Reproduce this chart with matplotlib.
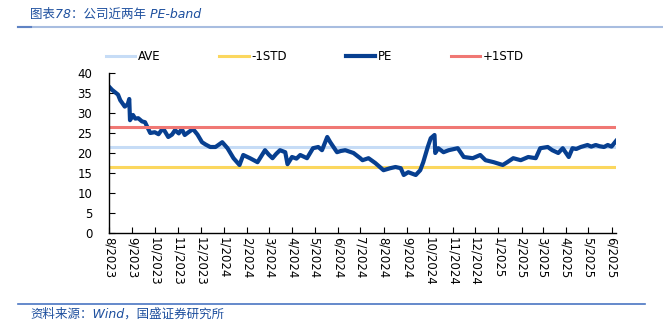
import numpy as np
import pandas as pd
import matplotlib
matplotlib.use("Agg")
import matplotlib.pyplot as plt
from matplotlib.transforms import Bbox, TransformedBbox

# PE series (approximate)
pe_dates = ["2023-08-01", "2023-08-05", "2023-08-09", "2023-08-13", "2023-08-16", "2023-08-22",
            "2023-08-26", "2023-08-28", "2023-08-29",
            "2023-09-02", "2023-09-05", "2023-09-09", "2023-09-14", "2023-09-18", "2023-09-25",
            "2023-10-01", "2023-10-06", "2023-10-12",
            "2023-10-19", "2023-10-24", "2023-10-28", "2023-11-02", "2023-11-06", "2023-11-10",
            "2023-11-15", "2023-11-21", "2023-11-27", "2023-12-03",
            "2023-12-08", "2023-12-14", "2023-12-21", "2023-12-30", "2024-01-06", "2024-01-14",
            "2024-01-22", "2024-01-27", "2024-02-05", "2024-02-15", "2024-02-25", "2024-03-01",
            "2024-03-06", "2024-03-11", "2024-03-16",
            "2024-03-23", "2024-03-26", "2024-04-01", "2024-04-07", "2024-04-12", "2024-04-21",
            "2024-04-29", "2024-05-06", "2024-05-11", "2024-05-18", "2024-05-22", "2024-05-31",
            "2024-06-05", "2024-06-11",
            "2024-06-22", "2024-07-01", "2024-07-04", "2024-07-12", "2024-07-21", "2024-08-01",
            "2024-08-10", "2024-08-17", "2024-08-24", "2024-08-28", "2024-09-03", "2024-09-13",
            "2024-09-19", "2024-09-23", "2024-09-29", "2024-10-03", "2024-10-08", "2024-10-09",
            "2024-10-13", "2024-10-20", "2024-10-27", "2024-11-08", "2024-11-16", "2024-11-28",
            "2024-12-08", "2024-12-15", "2024-12-26", "2025-01-07", "2025-01-13", "2025-01-21",
            "2025-01-31", "2025-02-10", "2025-02-20", "2025-02-26", "2025-03-08", "2025-03-14",
            "2025-03-22", "2025-03-28", "2025-04-05", "2025-04-10", "2025-04-15", "2025-04-21",
            "2025-04-30", "2025-05-05", "2025-05-11", "2025-05-16", "2025-05-22", "2025-05-27",
            "2025-06-01", "2025-06-07"]
pe_values = [36.6, 35.8, 35.2, 34.6, 33.2, 31.6,
             32.2, 33.5, 28.2,
             29.5, 28.6, 28.7, 27.9, 27.7, 25.0,
             25.2, 24.7, 26.2,
             24.0, 24.6, 25.7, 24.9, 26.0, 24.5,
             25.2, 26.0, 24.6, 22.7,
             22.1, 21.5, 21.5, 22.7, 21.2, 18.7,
             17.0, 19.5, 18.7, 17.7, 20.7, 19.6,
             18.7, 19.8, 20.7,
             20.2, 17.2, 19.0, 18.6, 19.5, 18.7,
             21.2, 21.5, 20.7, 24.0, 22.7, 20.2,
             20.5, 20.7,
             20.0, 18.7, 18.2, 18.7, 17.5, 15.7,
             16.2, 16.5, 16.2, 14.5, 15.2, 14.5,
             15.7, 17.7, 21.5, 23.7, 24.5, 20.0,
             21.2, 20.2, 20.7, 21.2, 19.0, 18.7,
             19.5, 18.2, 17.7, 17.0, 17.7, 18.7,
             18.2, 19.0, 18.7, 21.2, 21.5, 20.7,
             20.0, 21.2, 19.0, 21.2, 21.0, 21.5,
             22.0, 21.6, 22.0, 21.7, 21.5, 22.0,
             21.6, 23.0]
ave = 21.5
std_minus = 16.4
std_plus = 26.6

month_ticks = pd.date_range("2023-08-01", "2025-06-01", freq="MS")
tick_labels = [f"{d.month}/{d.year}" for d in month_ticks]

dates = pd.to_datetime(pe_dates)

fig = plt.figure(figsize=(6.63, 3.36), dpi=100)
ax = fig.add_axes([109 / 663, 1 - 233 / 336, (616 - 109) / 663, (233 - 73) / 336])

x0, x1 = dates[0], dates[-1]
ax.plot([x0, x1], [ave, ave], color="#c6dcf6", lw=2.2, label="AVE")
ax.plot([x0, x1], [std_minus, std_minus], color="#fbd75e", lw=2.2, label="-1STD")
ax.plot(dates, pe_values, color="#073f90", lw=3.0, label="PE", solid_joinstyle="round")
ax.plot([x0, x1], [std_plus, std_plus], color="#f07874", lw=2.2, label="+1STD")

ax.set_xlim(x0, x1)
ax.set_ylim(0, 40)
ax.set_yticks(np.arange(0, 41, 5))
ax.set_xticks(month_ticks)
ax.set_xticklabels(tick_labels, rotation=270, fontsize=8.5)
ax.tick_params(axis="y", labelsize=8.5, direction="in", length=4, pad=12)
ax.tick_params(axis="x", direction="in", length=4, pad=3)
for s in ["top", "right"]:
    ax.spines[s].set_visible(False)
for s in ["left", "bottom"]:
    ax.spines[s].set_linewidth(1.0)

# tick labels are cut off at the bottom of the chart area in the original
clip = TransformedBbox(Bbox([[0, (336 - 285) / 336], [1, 1]]), fig.transFigure)
for lab in ax.get_xticklabels():
    lab.set_clip_on(True)
    lab.set_clip_box(clip)

fig.legend(loc="center left", bbox_to_anchor=(95 / 663, 1 - 57 / 336), ncol=4, frameon=False,
           fontsize=8.5, handlelength=2.5, handletextpad=0.2, columnspacing=5.0)

fam = ["DejaVu Sans", "Noto Sans CJK SC"]
fig.text(30 / 663, 1 - 14 / 336, "图表78：公司近两年 PE-band", family=fam, style="italic",
         fontsize=9, color="#1d4f9e", va="center")
fig.add_artist(plt.Line2D([18 / 663, 1], [1 - 27 / 336] * 2, color="#a8bde0", lw=1.5))
fig.add_artist(plt.Line2D([18 / 663, 31 / 663], [1 - 27 / 336] * 2, color="#5f83c4", lw=1.5))
fig.add_artist(plt.Line2D([18 / 663, 645 / 663], [1 - 304 / 336] * 2, color="#4a76c2", lw=1.2))
fig.text(30 / 663, 1 - 314 / 336, "资料来源：Wind，国盛证券研究所", family=fam, style="italic",
         fontsize=9, color="#1d4f9e", va="center")

fig.savefig("out.png", dpi=100)
